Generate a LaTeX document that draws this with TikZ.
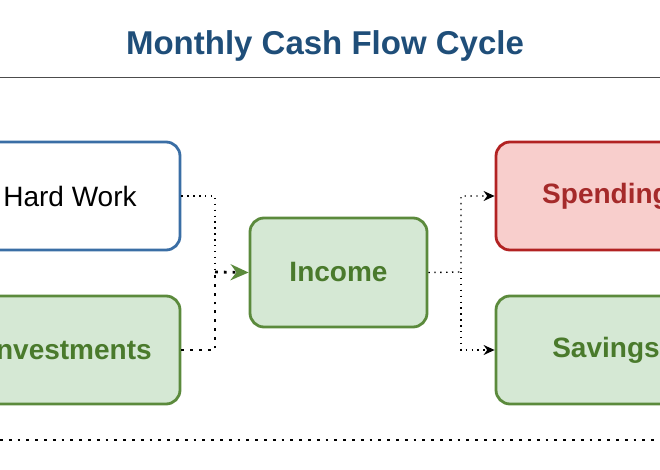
\documentclass[tikz,border=0pt]{standalone}
\usepackage{fontspec}
\setmainfont{Liberation Sans}
\usetikzlibrary{arrows.meta}
\definecolor{titleblue}{HTML}{1F4E79}
\definecolor{workblue}{HTML}{3A6EA5}
\definecolor{greenline}{HTML}{5B8A3C}
\definecolor{greenfill}{HTML}{D5E8D4}
\definecolor{greentext}{HTML}{4A7A2C}
\definecolor{redline}{HTML}{B22222}
\definecolor{redfill}{HTML}{F8CECC}
\definecolor{redtext}{HTML}{A52A2A}
\tikzset{
  box/.style = {rounded corners=14pt, line width=2.8pt, minimum width=220pt, minimum height=108pt, font=\fontsize{28}{32}\selectfont},
  greenbox/.style = {box, draw=greenline, fill=greenfill, text=greentext, font=\fontsize{28}{32}\selectfont\bfseries},
  thindots/.style = {line width=1.4pt, dash pattern=on 1.4pt off 4.5pt},
  thickdots/.style = {line width=2.8pt, dash pattern=on 2.8pt off 6pt},
  link/.style = {thindots, -{Stealth[length=11pt, width=10pt]}}
}
\begin{document}
\begin{tikzpicture}[x=1pt, y=-1pt]
\useasboundingbox (0,0) rectangle (660,470);
\node[titleblue, font=\fontsize{33}{37}\selectfont\bfseries] (title) at (325,46) {Monthly Cash Flow Cycle};
\draw[gray!60!black, line width=1pt] (0,78) -- (660,78);

\node[box, draw=workblue, fill=white] (work) at (70,196) {Hard Work};
\node[greenbox] (invest) at (70,350) {Investments};
\node[greenbox, minimum width=177pt, minimum height=109pt] (income) at (338.5,272.5) {Income};
\node[box, draw=redline, fill=redfill, text=redtext, font=\fontsize{28}{32}\selectfont\bfseries] (spend) at (606,196) {Spending};
\node[greenbox] (save) at (606,350) {Savings};

\coordinate (join) at (215,272);
\coordinate (split) at (461,272);
\draw[thindots] (work.east) -| (join);
\draw[thickdots] (invest.east) -| (join);
\draw[thickdots, -{Stealth[length=18pt, width=16pt, color=greenline]}] (join) -- (income.west);
\draw[link] (income.east) -- (split) |- (spend.west);
\draw[link] (split) |- (save.west);

\draw[thickdots] (0,440) -- (660,440);
\end{tikzpicture}
\end{document}
